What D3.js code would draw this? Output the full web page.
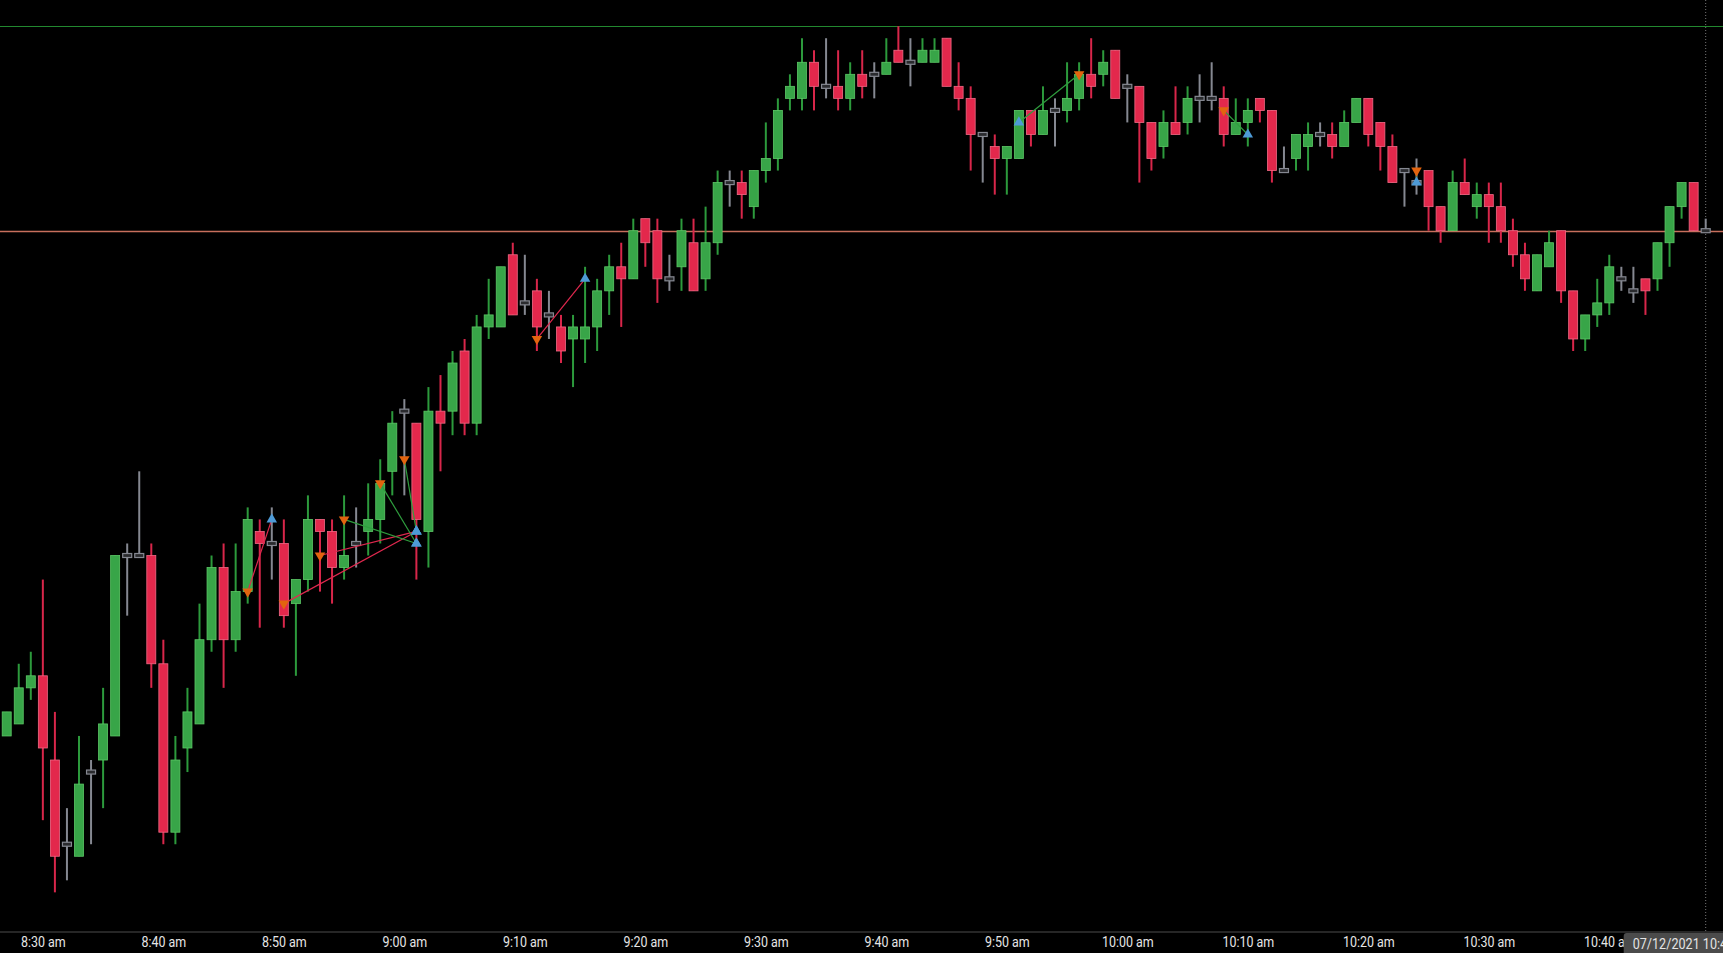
<!DOCTYPE html>
<html>
<head>
<meta charset="utf-8">
<script src="https://cdn.jsdelivr.net/npm/d3@7"></script>
<style>
  html, body { margin: 0; padding: 0; background: #000; overflow: hidden; }
  svg { display: block; }
</style>
</head>
<body>
<div id="chart"></div>
<script>
// 1 minute bars, 07/12/2021 08:27 - 10:48
var startTime = "2021-07-12 08:27";

var opens = [
  34908,34909,34912,34913,34906,34899,34898,34905,34906,34908,
  34923,34923,34923,34914,34900,34907,34909,34916,34922,34916,
  34920,34925,34924,34924,34919,34921,34926,34925,34922,34924,
  34925,34926,34930,34935,34934,34925,34935,34935,34940,34934,
  34942,34942,34948,34944,34945,34943,34942,34941,34941,34942,
  34945,34947,34946,34951,34950,34946,34947,34949,34946,34949,
  34954,34954,34952,34955,34956,34961,34961,34964,34962,34962,
  34961,34963,34963,34963,34965,34964,34964,34964,34966,34962,
  34961,34958,34957,34956,34956,34960,34958,34960,34960,34961,
  34963,34963,34965,34962,34962,34959,34957,34959,34959,34961,
  34961,34961,34958,34959,34961,34960,34955,34956,34957,34958,
  34958,34957,34959,34961,34959,34957,34955,34954,34955,34952,
  34950,34954,34952,34953,34952,34950,34948,34945,34947,34950,
  34945,34941,34943,34944,34946,34945,34946,34946,34949,34952,
  34954,34950
];
var highs = [
  34910,34914,34915,34921,34910,34902,34908,34906,34912,34923,
  34924,34930,34924,34916,34908,34912,34919,34923,34924,34924,
  34927,34926,34927,34926,34921,34928,34926,34926,34928,34927,
  34929,34931,34935,34936,34934,34937,34938,34940,34941,34943,
  34946,34947,34949,34948,34946,34945,34943,34943,34947,34946,
  34948,34949,34951,34951,34951,34948,34951,34951,34952,34955,
  34955,34955,34955,34959,34961,34963,34966,34965,34966,34965,
  34964,34965,34964,34966,34967,34966,34966,34966,34966,34964,
  34962,34958,34958,34957,34960,34960,34962,34961,34964,34964,
  34966,34965,34965,34963,34962,34959,34960,34962,34962,34963,
  34964,34962,34961,34961,34961,34960,34957,34958,34959,34959,
  34959,34960,34961,34961,34959,34958,34955,34956,34955,34952,
  34955,34956,34954,34954,34954,34951,34949,34948,34950,34950,
  34945,34943,34946,34948,34947,34947,34946,34949,34952,34954,
  34954,34951
];
var lows = [
  34908,34909,34911,34901,34895,34896,34898,34899,34902,34908,
  34918,34923,34912,34899,34899,34905,34909,34915,34912,34915,
  34919,34917,34921,34917,34913,34920,34920,34919,34921,34922,
  34923,34924,34928,34928,34921,34922,34930,34933,34933,34933,
  34941,34942,34943,34943,34940,34941,34939,34937,34939,34940,
  34943,34942,34946,34947,34944,34945,34945,34945,34945,34948,
  34952,34951,34951,34954,34955,34960,34960,34960,34961,34960,
  34960,34961,34961,34963,34964,34962,34964,34964,34962,34960,
  34955,34954,34953,34953,34956,34957,34958,34957,34959,34960,
  34961,34962,34961,34959,34954,34955,34956,34958,34958,34959,
  34960,34957,34958,34957,34959,34954,34955,34955,34955,34957,
  34956,34957,34959,34957,34955,34954,34952,34953,34950,34949,
  34950,34953,34951,34949,34949,34947,34945,34945,34947,34944,
  34940,34940,34942,34943,34945,34944,34943,34945,34947,34951,
  34950,34950
];
var closes = [
  34910,34912,34913,34907,34898,34899,34904,34905,34909,34923,
  34923,34923,34914,34900,34906,34910,34916,34922,34916,34920,
  34926,34924,34924,34918,34921,34926,34925,34922,34923,34924,
  34926,34929,34934,34935,34926,34935,34934,34939,34934,34942,
  34943,34947,34943,34944,34942,34943,34940,34942,34942,34945,
  34947,34946,34950,34949,34946,34946,34950,34945,34949,34954,
  34954,34953,34955,34956,34960,34962,34964,34962,34962,34961,
  34963,34962,34963,34964,34964,34964,34965,34965,34962,34961,
  34958,34958,34956,34957,34960,34958,34960,34960,34961,34963,
  34962,34964,34961,34962,34959,34956,34959,34958,34961,34961,
  34961,34958,34959,34960,34960,34955,34955,34958,34958,34958,
  34957,34959,34961,34958,34957,34954,34955,34954,34952,34950,
  34954,34953,34953,34952,34950,34948,34946,34948,34949,34945,
  34941,34943,34944,34947,34946,34945,34945,34949,34952,34954,
  34950,34950
];

// executions: bar index and fill price of entry / exit
var tradeSide    = ["short","short","short","short","short","short","short","long","short","short"];
var entryBar     = [20, 23, 26, 28, 31, 33, 44, 84, 101, 117];
var entryPrice   = [34920, 34919, 34923, 34926, 34929, 34931, 34941, 34959, 34960, 34955];
var exitBar      = [22, 34, 34, 34, 34, 34, 48, 89, 103, 117];
var exitPrice    = [34926, 34925, 34925, 34924, 34924, 34925, 34946, 34963, 34958, 34954];

// reference levels
var highLevel = 34967;
var refLevel = 34950;

var width = 1723, height = 953;
var axisY = 932;

var parse = d3.timeParse("%Y-%m-%d %H:%M");
var t0 = parse(startTime);
var bars = opens.map(function(o, i) {
  return { t: d3.timeMinute.offset(t0, i), o: o, h: highs[i], l: lows[i], c: closes[i] };
});

var svg = d3.select("#chart").append("svg")
  .attr("width", width)
  .attr("height", height)
  .style("background", "#000");

var x = d3.scaleTime()
  .domain([bars[0].t, bars[bars.length - 1].t])
  .range([6.7, 1705.7]);

var y = d3.scaleLinear()
  .domain([34895, 34967])
  .range([892.35, 26.19]);

var bodyW = 9;

var colors = {
  up: "#38a548", upEdge: "#5cc866", upWick: "#2c9a3c",
  down: "#e3284c", downEdge: "#f06a86", downWick: "#d8264a",
  flat: "#858891"
};

// horizontal levels
svg.append("line")
  .attr("x1", 0).attr("x2", width)
  .attr("y1", Math.round(y(highLevel)) + 0.5).attr("y2", Math.round(y(highLevel)) + 0.5)
  .attr("stroke", "#22882f").attr("stroke-width", 1);

svg.append("line")
  .attr("x1", 0).attr("x2", width)
  .attr("y1", Math.round(y(refLevel)) + 0.5).attr("y2", Math.round(y(refLevel)) + 0.5)
  .attr("stroke", "#c76f5c").attr("stroke-width", 1.3);

// current bar marker line
var lastX = x(bars[bars.length - 1].t);
svg.append("line")
  .attr("x1", lastX).attr("x2", lastX)
  .attr("y1", 0).attr("y2", axisY)
  .attr("stroke", "#777").attr("stroke-width", 1)
  .attr("stroke-dasharray", "1,2");

function kind(d) {
  if (d.c > d.o) return "up";
  if (d.c < d.o) return "down";
  return "flat";
}

var candle = svg.append("g").selectAll("g")
  .data(bars)
  .enter().append("g");

candle.append("line")
  .attr("x1", function(d) { return x(d.t); })
  .attr("x2", function(d) { return x(d.t); })
  .attr("y1", function(d) { return y(d.h); })
  .attr("y2", function(d) { return y(d.l); })
  .attr("stroke", function(d) {
    var k = kind(d);
    return k == "up" ? colors.upWick : k == "down" ? colors.downWick : colors.flat;
  })
  .attr("stroke-width", 2);

candle.filter(function(d) { return kind(d) != "flat"; })
  .append("rect")
  .attr("x", function(d) { return x(d.t) - bodyW / 2; })
  .attr("y", function(d) { return y(Math.max(d.o, d.c)); })
  .attr("width", bodyW)
  .attr("height", function(d) { return y(Math.min(d.o, d.c)) - y(Math.max(d.o, d.c)); })
  .attr("fill", function(d) { return kind(d) == "up" ? colors.up : colors.down; })
  .attr("stroke", function(d) { return kind(d) == "up" ? colors.upEdge : colors.downEdge; })
  .attr("stroke-width", 0.8);

// doji
candle.filter(function(d) { return kind(d) == "flat"; })
  .append("rect")
  .attr("x", function(d) { return x(d.t) - bodyW / 2; })
  .attr("y", function(d) { return y(d.c) - 2; })
  .attr("width", bodyW)
  .attr("height", 4)
  .attr("fill", "#2a2b2e")
  .attr("stroke", colors.flat)
  .attr("stroke-width", 1.2);

// trades
var trades = tradeSide.map(function(s, i) {
  var pnl = s == "long" ? exitPrice[i] - entryPrice[i] : entryPrice[i] - exitPrice[i];
  return {
    side: s,
    t1: bars[entryBar[i]].t, p1: entryPrice[i],
    t2: bars[exitBar[i]].t, p2: exitPrice[i],
    win: pnl > 0
  };
});

svg.append("g").selectAll("line")
  .data(trades)
  .enter().append("line")
  .attr("x1", function(d) { return x(d.t1); })
  .attr("y1", function(d) { return y(d.p1); })
  .attr("x2", function(d) { return x(d.t2); })
  .attr("y2", function(d) { return y(d.p2); })
  .attr("stroke", function(d) { return d.win ? "#2f9e3e" : "#e0284e"; })
  .attr("stroke-width", 1.2);

var fills = [];
trades.forEach(function(d) {
  fills.push({ t: d.t1, p: d.p1, buy: d.side == "long" });
  fills.push({ t: d.t2, p: d.p2, buy: d.side != "long" });
});

var tri = d3.symbol().type(d3.symbolTriangle).size(48);

svg.append("g").selectAll("path")
  .data(fills)
  .enter().append("path")
  .attr("d", tri)
  .attr("transform", function(d) {
    return "translate(" + x(d.t) + "," + y(d.p) + ")" + (d.buy ? "" : " rotate(180)");
  })
  .attr("fill", function(d) { return d.buy ? "#4d9ad6" : "#e2640f"; });

// time axis
svg.append("line")
  .attr("x1", 0).attr("x2", width)
  .attr("y1", axisY).attr("y2", axisY)
  .attr("stroke", "#262626").attr("stroke-width", 2);

var fmt = d3.timeFormat("%-I:%M %p");
var xAxis = d3.axisBottom(x)
  .ticks(d3.timeMinute.every(10))
  .tickSize(0)
  .tickPadding(0)
  .tickFormat(function(d) { return fmt(d).toLowerCase(); });

var ax = svg.append("g")
  .attr("transform", "translate(0," + (axisY + 3) + ")")
  .call(xAxis);
ax.select(".domain").remove();
ax.selectAll("text")
  .attr("fill", "#e6e6e6")
  .attr("font-family", "Roboto, 'Noto Sans', sans-serif")
  .attr("font-size", 14.5)
  .attr("transform", "scale(0.86,1)")
  .attr("dy", "0.85em");

// current time badge (runs off the right edge, as on screen)
var badgeFmt = d3.timeFormat("%m/%d/%Y %-I:%M %p");
var badge = svg.append("g").attr("transform", "translate(" + (lastX - 82) + "," + (axisY + 1) + ")");
badge.append("rect")
  .attr("width", 190).attr("height", 26)
  .attr("rx", 3)
  .attr("fill", "#4b4b4b");
badge.append("text")
  .attr("x", 9 / 0.84).attr("y", 16)
  .attr("transform", "scale(0.84,1)")
  .attr("fill", "#e4e4e4")
  .attr("font-family", "Roboto, 'Noto Sans', sans-serif")
  .attr("font-size", 15)
  .text(badgeFmt(bars[bars.length - 1].t).toLowerCase());
</script>
</body>
</html>
